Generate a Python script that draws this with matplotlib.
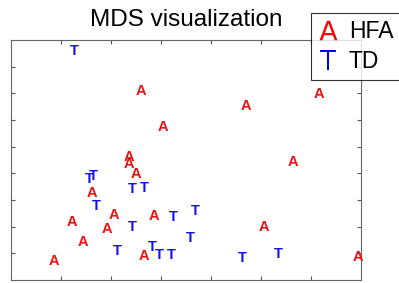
import matplotlib
matplotlib.use("Agg")
import matplotlib.pyplot as plt
from matplotlib.lines import Line2D

# MDS coordinates
hfa_x = [0.86, 1.22, 1.44, 1.62, 1.92, 2.06, 2.66, 2.86, 2.36, 2.36, 2.50, 2.60, 3.04, 4.70, 5.64, 5.06, 6.16, 6.94]
hfa_y = [0.71, 2.17, 1.42, 3.26, 1.91, 2.44, 0.90, 2.40, 4.61, 4.35, 3.97, 7.09, 5.74, 6.52, 4.42, 1.99, 6.97, 0.86]
td_x = [1.26, 1.56, 1.64, 1.70, 2.12, 2.42, 2.42, 2.66, 2.82, 2.96, 3.20, 3.24, 3.68, 3.58, 4.62, 5.34]
td_y = [8.59, 3.79, 3.90, 2.77, 1.09, 1.99, 3.41, 3.45, 1.24, 0.94, 0.94, 2.36, 2.59, 1.57, 0.82, 0.97]

plt.rcParams["font.family"] = ["Liberation Sans", "DejaVu Sans"]

fig = plt.figure(figsize=(3.99, 2.83), dpi=100)
ax = fig.add_axes([11 / 399, 3 / 283, 350 / 399, 240 / 283])

# each point drawn as a letter
for x, y in zip(hfa_x, hfa_y):
    ax.text(x, y, "A", color="#ee1111", fontsize=10.5, fontweight="bold", ha="center", va="center")
for x, y in zip(td_x, td_y):
    ax.text(x, y, "T", color="#1111ee", fontsize=10.5, fontweight="bold", ha="center", va="center")

ax.set_xlim(0, 7)
ax.set_ylim(0, 9)
ax.set_xticks(range(1, 7))
ax.set_yticks(range(1, 9))
ax.set_xticklabels([])
ax.set_yticklabels([])
ax.tick_params(direction="in", length=3, color="#555555", top=True, right=True)
for s in ax.spines.values():
    s.set_color("#666666")
    s.set_linewidth(0.8)

fig.text(0.466, 1 - 20 / 283, "MDS visualization", fontsize=17.5, ha="center", va="center")

handles = [
    Line2D([], [], linestyle="none", marker=r"$\mathsf{A}$", color="red", markersize=14, markeredgewidth=0),
    Line2D([], [], linestyle="none", marker=r"$\mathsf{T}$", color="blue", markersize=14, markeredgewidth=0),
]
leg = ax.legend(handles, ["HFA", "TD"], loc="upper left", bbox_to_anchor=(311 / 399, 1 - 13 / 283),
                bbox_transform=fig.transFigure, fontsize=16.5, frameon=True, fancybox=False,
                borderaxespad=0, handlelength=0.9, handletextpad=0.45, labelspacing=0.3,
                borderpad=0.3)
leg.get_frame().set_edgecolor("black")
leg.get_frame().set_linewidth(0.8)

fig.savefig("out.png", dpi=100)
